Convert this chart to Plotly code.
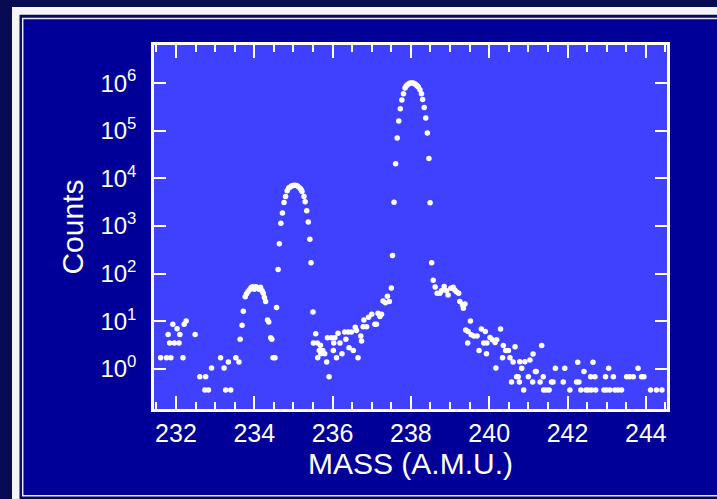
import plotly.graph_objects as go

# ---- data (mass in a.m.u., counts) ----
mass = [
    231.61, 231.76, 231.80, 231.84, 231.87, 231.92, 231.96, 232.03, 232.08, 232.10,
    232.18, 232.21, 232.26, 232.49,
    232.61, 232.74, 232.76, 232.83, 232.91, 233.14, 233.23, 233.27, 233.34, 233.40,
    233.53, 233.61, 233.64, 233.69,
    233.72, 233.77, 233.80, 233.84, 233.88, 233.92, 233.96, 234.00, 234.04, 234.08,
    234.12, 234.16, 234.20, 234.23, 234.26, 234.29, 234.34, 234.37, 234.42, 234.45,
    234.48, 234.53, 234.57,
    234.61, 234.64, 234.68, 234.72, 234.76, 234.80, 234.84, 234.88, 234.91, 234.95,
    234.99, 235.03, 235.08, 235.12, 235.17, 235.20, 235.22, 235.27, 235.30, 235.34,
    235.38, 235.42, 235.45, 235.50,
    235.51, 235.57, 235.61, 235.62, 235.66, 235.69, 235.70, 235.75, 235.80, 235.85,
    235.87, 235.91, 235.97, 236.02, 236.03, 236.06, 236.10, 236.14, 236.19, 236.24,
    236.31, 236.34, 236.40, 236.42, 236.48, 236.53, 236.58, 236.61, 236.65, 236.72,
    236.74, 236.78, 236.80, 236.87, 236.92, 237.00, 237.08, 237.12, 237.16, 237.21,
    237.25, 237.29, 237.35, 237.40, 237.45, 237.50, 237.53, 237.57, 237.61,
    237.65, 237.69, 237.73, 237.77, 237.81, 237.85, 237.88, 237.91, 237.95, 237.98,
    238.02, 238.06, 238.10, 238.13, 238.16, 238.19, 238.23, 238.27, 238.30, 238.34,
    238.38, 238.42, 238.46, 238.49, 238.53, 238.57, 238.62,
    238.67, 238.74, 238.78, 238.85, 238.91, 238.95, 239.02, 239.08, 239.12, 239.16,
    239.22, 239.25, 239.32, 239.34, 239.38, 239.40, 239.45, 239.46, 239.52, 239.54,
    239.61, 239.69, 239.74, 239.80, 239.86, 239.90, 239.93, 239.94, 240.02, 240.08,
    240.15, 240.17, 240.19, 240.29, 240.34, 240.36, 240.42, 240.49, 240.53, 240.57,
    240.61, 240.66, 240.70, 240.74, 240.77, 240.78, 240.83, 240.88, 240.91, 241.00,
    241.04, 241.11, 241.12, 241.18, 241.20, 241.30, 241.34, 241.38, 241.39, 241.46,
    241.53, 241.59, 241.63, 241.69, 241.89, 241.93, 242.06, 242.23, 242.26, 242.29,
    242.34, 242.42, 242.47, 242.53, 242.59, 242.61, 242.65, 242.70, 242.72, 242.93,
    242.97, 243.00, 243.05, 243.08, 243.17, 243.21, 243.29, 243.38, 243.51, 243.59,
    243.68, 243.80, 243.89, 243.95, 244.12, 244.27, 244.41,
]
counts = [
    1.73, 1.73, 5.3, 3.5, 1.73, 8.7, 3.5, 7.0, 3.5, 5.3,
    1.73, 8.7, 10.2, 5.3,
    0.69, 0.36, 0.69, 0.36, 1.05, 1.73, 1.05, 0.36, 1.4, 0.36,
    1.73, 1.4, 4.2, 8.3,
    16.3, 33, 37.6, 42, 46, 51, 53, 47, 53, 51,
    47, 52, 44, 39, 31.5, 26, 10.7, 9.7, 4.55, 4.2,
    1.73, 1.73, 19.4,
    122, 423, 1150, 1890, 3120, 4170, 5490, 6300, 6560, 6900,
    7100, 7150, 7100, 6800, 6250, 5800, 5310, 4170, 3220, 2090,
    1210, 531, 169, 15.7,
    3.5, 5.5, 3.5, 1.73, 2.45, 3.15, 2.1, 2.45, 2.1, 1.4,
    4.55, 0.69, 4.55, 2.45, 3.5, 4.55, 1.73, 5.6, 3.5, 2.1,
    6.0, 4.2, 6.0, 2.8, 6.0, 2.45, 7.5, 6.4, 1.73, 4.9,
    3.85, 7.7, 10.7, 7.7, 12.2, 14.1, 8.7, 8.7, 14.8, 12.6,
    14.1, 26.8, 24.7, 33.7, 26, 50.3, 240, 3160, 20300,
    70300, 160000, 290000, 441000, 599000, 789000, 870000, 925000, 975000, 1000000,
    1010000, 1000000, 970000, 925000, 880000, 828000, 726000, 599000, 455000, 309000,
    185000, 89500, 26200, 3070, 169, 73, 52.8,
    39, 39, 44, 53.6, 44, 35.9, 49.6, 52, 45.7, 42,
    39, 26, 22, 18.8, 23, 6.6, 3.5, 6.1, 10.2, 5.2,
    4.9, 4.9, 2.45, 6.9, 3.5, 6.1, 2.1, 3.5, 4.6, 4.1,
    3.6, 1.05, 4.1, 6.9, 1.73, 3.1, 2.45, 2.45, 1.73, 0.53,
    1.4, 2.94, 0.69, 0.69, 0.53, 1.42, 1.03, 0.36, 1.42, 0.69,
    1.55, 0.53, 2.07, 0.88, 0.88, 0.53, 3.1, 0.69, 0.36, 0.36,
    0.36, 0.53, 0.53, 1.03, 0.53, 1.03, 0.36, 0.53, 1.38, 0.53,
    0.36, 0.88, 0.36, 0.36, 0.69, 0.36, 1.38, 0.69, 0.36, 0.36,
    0.69, 0.36, 1.03, 0.36, 0.69, 0.36, 0.36, 0.36, 0.69, 0.69,
    0.69, 1.03, 0.69, 0.69, 0.36, 0.36, 0.36,
]

x_tick_vals = [232, 234, 236, 238, 240, 242, 244]
x_tick_text = ["232", "234", "236", "238", "240", "242", "244"]
y_tick_vals = [1, 10, 100, 1000, 10000, 100000, 1000000]
y_tick_text = ["10<sup>0</sup>", "10<sup>1</sup>", "10<sup>2</sup>", "10<sup>3</sup>",
               "10<sup>4</sup>", "10<sup>5</sup>", "10<sup>6</sup>"]
x_title = "MASS (A.M.U.)"
y_title = "Counts"

# ---- figure ----
W, H = 717, 499
L, R, T, B = 154, 667, 45, 409
FONT = "Liberation Sans, Arial, Helvetica, sans-serif"


def px(x):
    return (x - L) / (R - L)


def py(y):
    return (B - y) / (B - T)


OUTER = "#070b52"
INNER = "#000099"
PLOT = "#4040ff"

shapes = [
    dict(type="rect", xref="paper", yref="paper", layer="below",
         x0=px(12), x1=px(740), y0=py(7), y1=py(520),
         fillcolor="#f4f4f8", line=dict(width=0)),
    dict(type="rect", xref="paper", yref="paper", layer="below",
         x0=px(19.5), x1=px(740), y0=py(14.8), y1=py(520),
         fillcolor=OUTER, line=dict(width=0)),
    dict(type="rect", xref="paper", yref="paper", layer="below",
         x0=px(22.7), x1=px(740), y0=py(18.6), y1=py(495.8),
         fillcolor=INNER, line=dict(width=1.5, color="#e8e8f0")),
    dict(type="rect", xref="paper", yref="paper", layer="below",
         x0=0, x1=1, y0=0, y1=1,
         fillcolor=PLOT, line=dict(width=0)),
]

fig = go.Figure()
fig.add_trace(go.Scatter(
    x=mass, y=counts, mode="markers",
    marker=dict(color="white", size=5.5, line=dict(width=0)),
    hoverinfo="x+y",
))

fig.update_layout(
    width=W, height=H,
    margin=dict(l=L, r=W - R, t=T, b=H - B, pad=0),
    paper_bgcolor=OUTER,
    plot_bgcolor="rgba(0,0,0,0)",
    showlegend=False,
    shapes=shapes,
    font=dict(family=FONT, color="white"),
)

fig.update_xaxes(
    range=[231.44, 244.54],
    tickvals=x_tick_vals, ticktext=x_tick_text,
    ticks="inside", ticklen=13, tickwidth=2, tickcolor="white",
    minor=dict(dtick=0.5, tick0=232, ticks="inside", ticklen=7, tickwidth=2, tickcolor="white"),
    showline=True, linecolor="white", linewidth=2.5, mirror="ticks",
    showgrid=False, zeroline=False,
    tickfont=dict(size=25, family=FONT, color="white"),
    ticklabelstandoff=0,
    title=dict(text=x_title, font=dict(size=30, family=FONT, color="white"), standoff=2),
)
fig.update_yaxes(
    type="log", range=[-0.84, 6.80],
    tickvals=y_tick_vals, ticktext=y_tick_text,
    ticks="inside", ticklen=12, tickwidth=2, tickcolor="white",
    showline=True, linecolor="white", linewidth=2.5, mirror="ticks",
    showgrid=False, zeroline=False,
    tickfont=dict(size=24, family=FONT, color="white"),
    ticklabelstandoff=10,
    title=dict(text=y_title, font=dict(size=30, family=FONT, color="white"), standoff=8),
)

fig.write_html("out.html")
